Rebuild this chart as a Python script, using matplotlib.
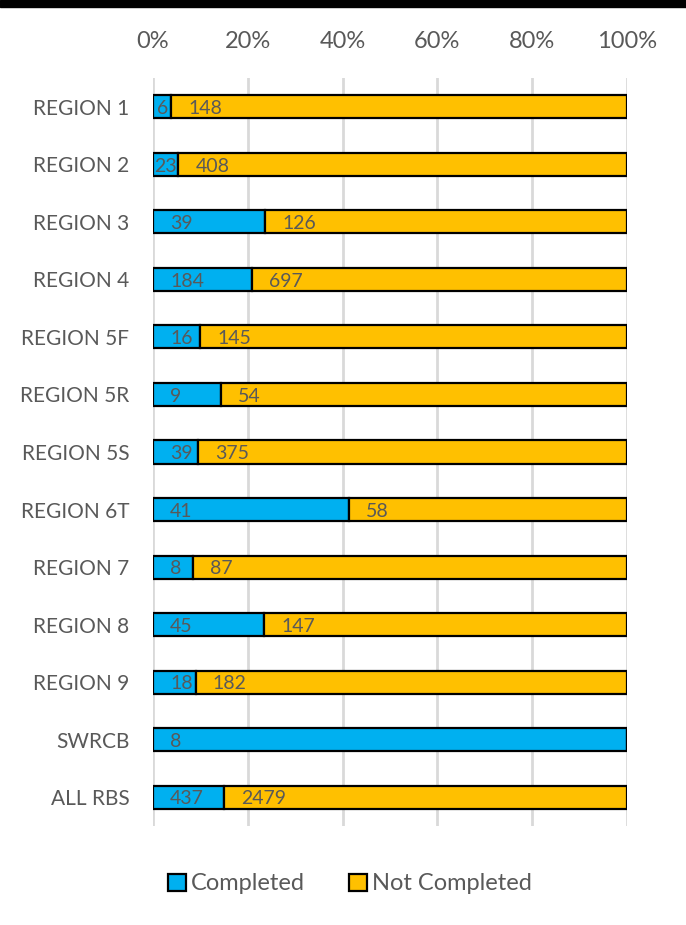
import matplotlib
matplotlib.use("Agg")
import matplotlib.pyplot as plt
from matplotlib.patches import Rectangle
from matplotlib.ticker import PercentFormatter

regions = ["REGION 1", "REGION 2", "REGION 3", "REGION 4", "REGION 5F", "REGION 5R",
           "REGION 5S", "REGION 6T", "REGION 7", "REGION 8", "REGION 9", "SWRCB", "ALL RBS"]
completed = [6, 23, 39, 184, 16, 9, 39, 41, 8, 45, 18, 8, 437]
not_completed = [148, 408, 126, 697, 145, 54, 375, 58, 87, 147, 182, 0, 2479]

BLUE = "#00B0F0"
ORANGE = "#FFC000"
GREY = "#595959"

plt.rcParams["font.family"] = ["Lato", "DejaVu Sans"]

fig = plt.figure(figsize=(6.86, 9.25), dpi=100)
ax = fig.add_axes([153 / 686, 1 - 826 / 925, 474 / 686, 748 / 925])

totals = [c + n for c, n in zip(completed, not_completed)]
share_c = [c / t for c, t in zip(completed, totals)]
share_n = [n / t for n, t in zip(not_completed, totals)]
ypos = list(range(len(regions)))

ax.barh(ypos, share_c, height=0.4, color=BLUE, edgecolor="black", linewidth=1.6,
        label="Completed", zorder=3)
ax.barh(ypos, share_n, left=share_c, height=0.4, color=ORANGE, edgecolor="black",
        linewidth=1.6, label="Not Completed", zorder=3)

# labels sit near the base of each segment (Excel "inside base")
pad = 0.036
for y, c, n, sc, sn in zip(ypos, completed, not_completed, share_c, share_n):
    for val, left, w in [(c, 0, sc), (n, sc, sn)]:
        if val == 0:
            continue
        if w < 0.075:
            ax.text(left + w / 2, y + 0.03, str(val), ha="center", va="center",
                    fontsize=14, color=GREY, zorder=4)
        else:
            ax.text(left + pad, y + 0.03, str(val), ha="left", va="center",
                    fontsize=14, color=GREY, zorder=4)

ax.set_xlim(0, 1)
ax.set_ylim(len(regions) - 0.5, -0.5)
ax.set_xticks([0, 0.2, 0.4, 0.6, 0.8, 1.0])
ax.xaxis.set_major_formatter(PercentFormatter(1.0, decimals=0))
ax.xaxis.tick_top()
ax.set_yticks(ypos)
ax.set_yticklabels(regions)
ax.tick_params(axis="x", length=0, pad=19, labelsize=17, labelcolor=GREY)
ax.tick_params(axis="y", length=0, pad=17, labelsize=15, labelcolor=GREY)
for s in ax.spines.values():
    s.set_visible(False)
ax.grid(axis="x", color="#D9D9D9", linewidth=2, zorder=0)
ax.set_axisbelow(True)

fig.legend(loc="center", bbox_to_anchor=(0.51, 1 - 884 / 925), ncol=2, frameon=False,
           fontsize=17, labelcolor=GREY, handlelength=0.75, handleheight=0.75,
           handletextpad=0.2, columnspacing=1.9)

# black strip along the top edge
fig.patches.append(Rectangle((0, 1 - 7 / 925), 1, 7 / 925, transform=fig.transFigure,
                             color="black", zorder=0))

fig.savefig("out.png", dpi=100)
